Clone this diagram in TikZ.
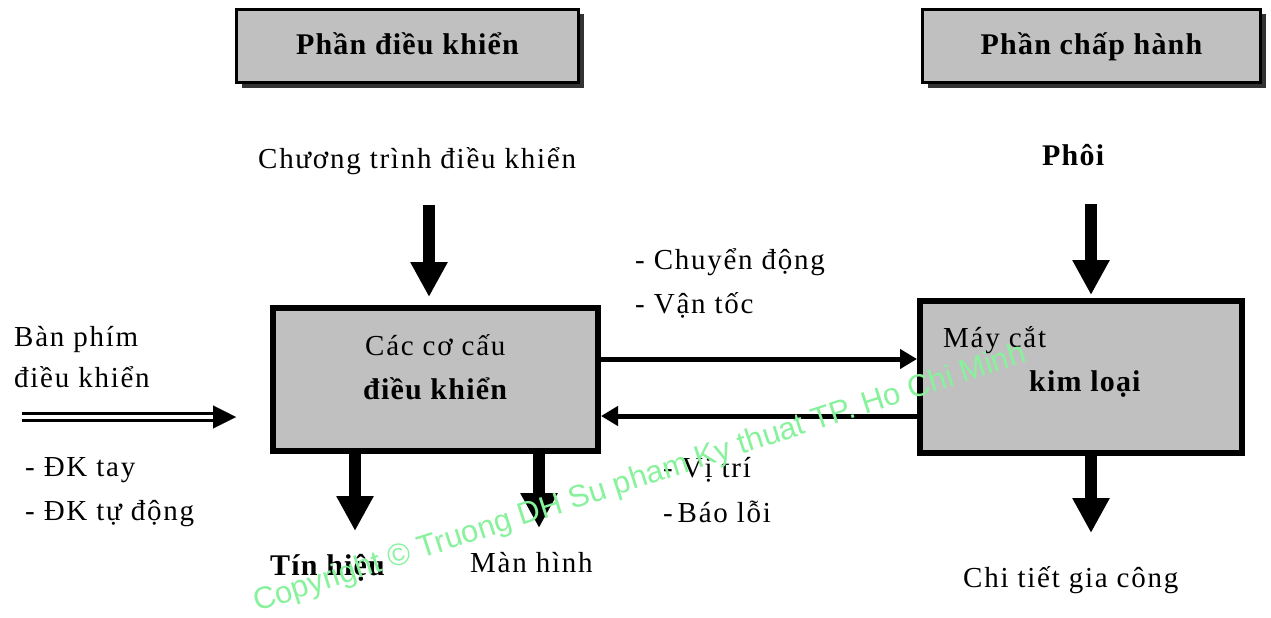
\documentclass[tikz,border=0pt]{standalone}
\usepackage{fontspec}
\setmainfont{Liberation Serif}[LetterSpace=6, BoldFeatures={LetterSpace=4}]
\newfontfamily\wmfont{Liberation Sans}
\usetikzlibrary{arrows.meta,shadows}

\definecolor{boxgray}{RGB}{192,192,192}
\definecolor{wmgreen}{RGB}{135,242,155}

\begin{document}
\begin{tikzpicture}[x=1pt,y=-1pt,
  txt/.style={anchor=base west, inner sep=0pt, font=\fontsize{29}{34}\selectfont},
  btxt/.style={anchor=base west, inner sep=0pt, font=\fontsize{30}{36}\selectfont\bfseries},
  headbox/.style={draw, line width=3pt, fill=boxgray, inner sep=0pt,
    minimum width=342pt, minimum height=73pt, text height=22pt, text depth=4pt,
    font=\fontsize{30}{36}\selectfont\bfseries,
    drop shadow={shadow xshift=5pt, shadow yshift=-5pt, fill=black!80, opacity=1}},
  block/.style={draw, line width=6pt, fill=boxgray, inner sep=0pt},
  bigarrow/.style={line width=12pt, -{Triangle[width=35pt,length=35pt]}},
  flow/.style={line width=5pt, -{Triangle[width=19pt,length=17pt]}},
  watermark/.style={anchor=base west, inner sep=0pt, text=wmgreen,
    font=\wmfont\fontsize{31}{36}\selectfont, rotate=18}
]
\useasboundingbox (0,0) rectangle (1271,618);

% header boxes
\node[headbox] (hctrl) at (407.5,46) {Phần điều khiển};
\node[headbox, minimum width=338pt] (hexec) at (1091.5,46) {Phần chấp hành};

% main blocks
\node[block, minimum width=325pt, minimum height=143pt] (ctrl) at (435.5,379.5) {};
\node[block, minimum width=322pt, minimum height=152pt] (mach) at (1081,377) {};

% texts of the blocks
\node[txt] (ctrlA) at (365,355) {Các cơ cấu};
\node[btxt] (ctrlB) at (363,399) {điều khiển};
\node[txt] (machA) at (943,347) {Máy cắt};
\node[btxt] (machB) at (1029,391) {kim loại};

% inputs
\node[txt] (prog) at (258,168) {Chương trình điều khiển};
\node[btxt] (blank) at (1042,165) {Phôi};
\node[txt] (keyA) at (14,346) {Bàn phím};
\node[txt] (keyB) at (14,387) {điều khiển};
\node[txt] (modeA) at (25,476) {- ĐK tay};
\node[txt] (modeB) at (25,520) {- ĐK tự động};

% outputs
\node[btxt] (signal) at (270,575) {Tín hiệu};
\node[txt] (screen) at (470,572) {Màn hình};
\node[txt] (part) at (963,587) {Chi tiết gia công};

% labels of the links between the blocks
\node[txt] (motA) at (635,269) {- Chuyển động};
\node[txt] (motB) at (635,313) {- Vận tốc};
\node[txt] (fbA) at (663,477) {- Vị trí};
\node[txt] (fbB) at (663,522) {-\,Báo lỗi};

% keyboard input: double line arrow
\coordinate (kin) at (22,417);
\coordinate (kout) at (236,417);
\draw[double, double distance=4pt, line width=3pt, shorten >=22pt] (kin) -- (kout);
\draw[line width=0.1pt, -{Triangle[width=23pt,length=23pt]}] ([xshift=-23pt]kout) -- (kout);

% vertical thick arrows
\coordinate (progtop) at (429,205);
\draw[bigarrow, shorten >=8pt] (progtop) -- (progtop |- ctrl.north);
\coordinate (pin) at (1091,204);
\draw[bigarrow, shorten >=3pt] (pin) -- (pin |- mach.north);
\coordinate (sigtip) at (355,531);
\draw[bigarrow] (sigtip |- ctrl.south) -- (sigtip);
\coordinate (scrtip) at (539,528);
\draw[bigarrow] (scrtip |- ctrl.south) -- (scrtip);
\coordinate (parttip) at (1091,533);
\draw[bigarrow] (parttip |- mach.south) -- (parttip);

% links between the blocks
\draw[flow] ([yshift=20.5pt]ctrl.east) -- ([yshift=20.5pt]ctrl.east -| mach.west);
\draw[flow] ([yshift=-36.5pt]ctrl.east -| mach.west) -- ([yshift=-36.5pt]ctrl.east);

% watermark
\node[watermark] (wm) at (257,612) {Copyright © Truong DH Su pham Ky thuat TP. Ho Chi Minh};
\end{tikzpicture}
\end{document}
